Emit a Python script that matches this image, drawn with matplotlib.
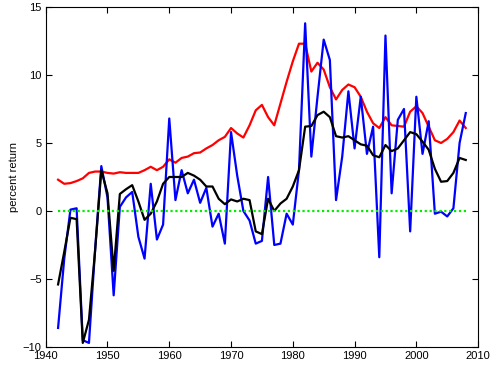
import matplotlib
matplotlib.use("Agg")
import matplotlib.pyplot as plt
import numpy as np

years = list(range(1942, 2009))

annual_return = [-8.6, -3.5, 0.1, 0.2, -9.5, -9.7, -2.8, 3.3, 1.0, -6.2,
                 0.3, 1.0, 1.4, -1.9, -3.5, 2.0, -2.1, -1.0, 6.8, 0.8,
                 3.0, 1.3, 2.3, 0.6, 1.7, -1.15, -0.2, -2.4, 5.8, 2.6,
                 0.0, -0.7, -2.4, -2.2, 2.5, -2.5, -2.4, -0.2, -1.0, 3.0,
                 13.8, 4.0, 8.4, 12.6, 11.1, 0.8, 4.0, 8.8, 4.6, 8.4,
                 4.2, 6.2, -3.4, 12.9, 1.3, 6.7, 7.5, -1.5, 8.4, 4.2,
                 6.6, -0.2, -0.05, -0.4, 0.2, 5.0, 7.2]

smoothed = [-5.4, -3.0, -0.5, -0.6, -9.7, -8.0, -2.9, 3.0, 1.3, -4.4,
            1.25, 1.6, 1.9, 0.7, -0.65, -0.2, 0.7, 2.0, 2.5, 2.5,
            2.5, 2.8, 2.6, 2.3, 1.8, 1.8, 0.9, 0.5, 0.85, 0.7,
            0.9, 0.8, -1.5, -1.7, 0.9, 0.0, 0.55, 0.9, 1.8, 3.0,
            6.2, 6.25, 7.05, 7.3, 6.9, 5.5, 5.4, 5.5, 5.2, 4.9,
            4.8, 4.1, 3.95, 4.85, 4.4, 4.6, 5.2, 5.8, 5.65, 5.1,
            4.5, 3.1, 2.15, 2.2, 2.8, 3.9, 3.75]

yield_line = [2.3, 2.0, 2.05, 2.2, 2.4, 2.8, 2.9, 2.9, 2.8, 2.75,
              2.85, 2.8, 2.8, 2.8, 3.0, 3.25, 3.0, 3.25, 3.8, 3.55,
              3.9, 4.0, 4.25, 4.3, 4.6, 4.85, 5.2, 5.45, 6.1, 5.7,
              5.4, 6.3, 7.4, 7.8, 6.9, 6.3, 7.9, 9.5, 11.0, 12.3,
              12.3, 10.25, 10.9, 10.4, 9.1, 8.2, 8.9, 9.3, 9.1, 8.4,
              7.3, 6.45, 6.1, 6.9, 6.3, 6.25, 6.2, 7.3, 7.7, 7.2,
              6.2, 5.2, 5.0, 5.3, 5.8, 6.65, 6.1]

zero_line = [0.0] * len(years)

xticks = [1940, 1950, 1960, 1970, 1980, 1990, 2000, 2010]
yticks = [-10, -5, 0, 5, 10, 15]

plt.rcParams['font.family'] = ['Liberation Sans', 'DejaVu Sans']
fig = plt.figure(figsize=(4.97, 3.71), dpi=100)
ax = fig.add_axes([0.092, 0.0647, 0.870, 0.9165])

ax.plot(years, yield_line, color='#ff0000', lw=1.6)
ax.plot(years, annual_return, color='#0000ff', lw=1.6)
ax.plot(years, smoothed, color='#000000', lw=1.6)
ax.plot(years, zero_line, color='#00ee00', lw=1.6, linestyle=(0, (1, 1.2)))

ax.set_xlim(1940, 2010)
ax.set_ylim(-10, 15)
ax.set_xticks(xticks)
ax.set_yticks(yticks)
ax.tick_params(direction='in', top=True, right=True, length=4, width=0.8,
               labelsize=8, pad=3)
for s in ax.spines.values():
    s.set_linewidth(0.8)
ax.set_ylabel('percent return', fontsize=8, labelpad=3)

fig.savefig('out.png', dpi=100)
